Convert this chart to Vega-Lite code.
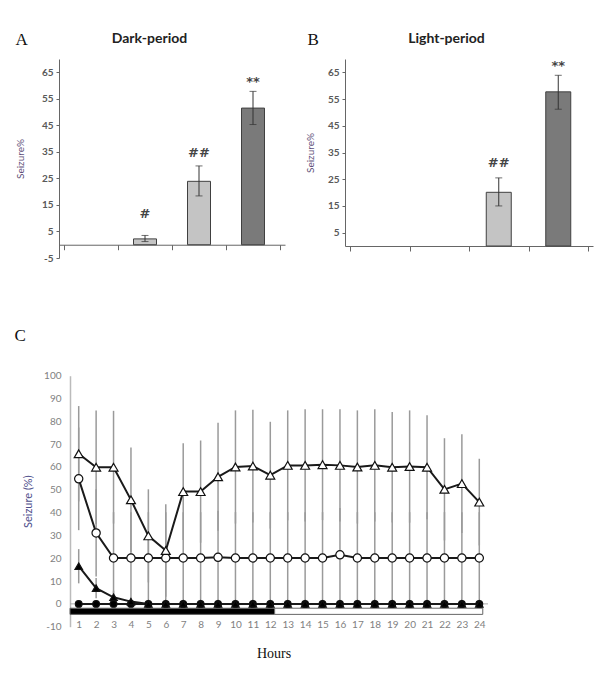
{
  "$schema": "https://vega.github.io/schema/vega-lite/v6.json",
  "background": "white",
  "padding": {"left": 14, "top": 31, "right": 5, "bottom": 5},
  "config": {
    "view": {"stroke": null},
    "font": "Lato",
    "axis": {"grid": false, "labelOverlap": false, "labelFlush": false, "labelBound": false},
    "title": {"font": "Liberation Serif", "fontSize": 17, "fontWeight": "normal", "color": "#111"}
  },
  "datasets": {
    "dark": [
      {"g": 0.5, "v": 0, "lo": 0, "hi": 0, "tone": "light", "lab": "", "ly": 0},
      {"g": 1.5, "v": 2.2, "lo": 1.2, "hi": 3.5, "tone": "light", "lab": "#", "ly": 11.7},
      {"g": 2.5, "v": 23.9, "lo": 18.4, "hi": 29.7, "tone": "light", "lab": "##", "ly": 34.6},
      {"g": 3.5, "v": 51.5, "lo": 45.3, "hi": 57.8, "tone": "dark", "lab": "**", "ly": 61.4}
    ],
    "light": [
      {"g": 0.5, "v": 0, "lo": 0, "hi": 0, "tone": "light", "lab": "", "ly": 0},
      {"g": 1.5, "v": 0, "lo": 0, "hi": 0, "tone": "light", "lab": "", "ly": 0},
      {"g": 2.5, "v": 20.1, "lo": 15.0, "hi": 25.5, "tone": "light", "lab": "##", "ly": 30.9},
      {"g": 3.5, "v": 57.7, "lo": 51.2, "hi": 63.9, "tone": "dark", "lab": "**", "ly": 67.4}
    ],
    "periods": [
      {"start": 0.5, "end": 12.25, "period": "dark", "top": -1.9, "bottom": -4.6},
      {"start": 12.25, "end": 24.2, "period": "light", "top": -1.9, "bottom": -4.6}
    ],
    "hourly": [
      {"hour": 1, "series": "FC", "mean": 0, "lo": 0, "hi": 0},
      {"hour": 2, "series": "FC", "mean": 0, "lo": 0, "hi": 0},
      {"hour": 3, "series": "FC", "mean": 0, "lo": 0, "hi": 0},
      {"hour": 4, "series": "FC", "mean": 0, "lo": 0, "hi": 0},
      {"hour": 5, "series": "FC", "mean": 0, "lo": 0, "hi": 0},
      {"hour": 6, "series": "FC", "mean": 0, "lo": 0, "hi": 0},
      {"hour": 7, "series": "FC", "mean": 0, "lo": 0, "hi": 0},
      {"hour": 8, "series": "FC", "mean": 0, "lo": 0, "hi": 0},
      {"hour": 9, "series": "FC", "mean": 0, "lo": 0, "hi": 0},
      {"hour": 10, "series": "FC", "mean": 0, "lo": 0, "hi": 0},
      {"hour": 11, "series": "FC", "mean": 0, "lo": 0, "hi": 0},
      {"hour": 12, "series": "FC", "mean": 0, "lo": 0, "hi": 0},
      {"hour": 13, "series": "FC", "mean": 0, "lo": 0, "hi": 0},
      {"hour": 14, "series": "FC", "mean": 0, "lo": 0, "hi": 0},
      {"hour": 15, "series": "FC", "mean": 0, "lo": 0, "hi": 0},
      {"hour": 16, "series": "FC", "mean": 0, "lo": 0, "hi": 0},
      {"hour": 17, "series": "FC", "mean": 0, "lo": 0, "hi": 0},
      {"hour": 18, "series": "FC", "mean": 0, "lo": 0, "hi": 0},
      {"hour": 19, "series": "FC", "mean": 0, "lo": 0, "hi": 0},
      {"hour": 20, "series": "FC", "mean": 0, "lo": 0, "hi": 0},
      {"hour": 21, "series": "FC", "mean": 0, "lo": 0, "hi": 0},
      {"hour": 22, "series": "FC", "mean": 0, "lo": 0, "hi": 0},
      {"hour": 23, "series": "FC", "mean": 0, "lo": 0, "hi": 0},
      {"hour": 24, "series": "FC", "mean": 0, "lo": 0, "hi": 0},
      {"hour": 1, "series": "FT", "mean": 16.5, "lo": 9.0, "hi": 24.0},
      {"hour": 2, "series": "FT", "mean": 6.9, "lo": 2.5, "hi": 11.3},
      {"hour": 3, "series": "FT", "mean": 2.9, "lo": 0, "hi": 5.8},
      {"hour": 4, "series": "FT", "mean": 1.0, "lo": 0, "hi": 2.0},
      {"hour": 5, "series": "FT", "mean": 0, "lo": 0, "hi": 0},
      {"hour": 6, "series": "FT", "mean": 0, "lo": 0, "hi": 0},
      {"hour": 7, "series": "FT", "mean": 0, "lo": 0, "hi": 0},
      {"hour": 8, "series": "FT", "mean": 0, "lo": 0, "hi": 0},
      {"hour": 9, "series": "FT", "mean": 0, "lo": 0, "hi": 0},
      {"hour": 10, "series": "FT", "mean": 0, "lo": 0, "hi": 0},
      {"hour": 11, "series": "FT", "mean": 0, "lo": 0, "hi": 0},
      {"hour": 12, "series": "FT", "mean": 0, "lo": 0, "hi": 0},
      {"hour": 13, "series": "FT", "mean": 0, "lo": 0, "hi": 0},
      {"hour": 14, "series": "FT", "mean": 0, "lo": 0, "hi": 0},
      {"hour": 15, "series": "FT", "mean": 0, "lo": 0, "hi": 0},
      {"hour": 16, "series": "FT", "mean": 0, "lo": 0, "hi": 0},
      {"hour": 17, "series": "FT", "mean": 0, "lo": 0, "hi": 0},
      {"hour": 18, "series": "FT", "mean": 0, "lo": 0, "hi": 0},
      {"hour": 19, "series": "FT", "mean": 0, "lo": 0, "hi": 0},
      {"hour": 20, "series": "FT", "mean": 0, "lo": 0, "hi": 0},
      {"hour": 21, "series": "FT", "mean": 0, "lo": 0, "hi": 0},
      {"hour": 22, "series": "FT", "mean": 0, "lo": 0, "hi": 0},
      {"hour": 23, "series": "FT", "mean": 0, "lo": 0, "hi": 0},
      {"hour": 24, "series": "FT", "mean": 0, "lo": 0, "hi": 0},
      {"hour": 1, "series": "O", "mean": 54.8, "lo": 32.3, "hi": 77.3},
      {"hour": 2, "series": "O", "mean": 31.1, "lo": 12.0, "hi": 50.2},
      {"hour": 3, "series": "O", "mean": 20.1, "lo": 0, "hi": 40.2},
      {"hour": 4, "series": "O", "mean": 20.1, "lo": 0, "hi": 40.2},
      {"hour": 5, "series": "O", "mean": 20.1, "lo": 0, "hi": 40.2},
      {"hour": 6, "series": "O", "mean": 20.1, "lo": 0, "hi": 40.2},
      {"hour": 7, "series": "O", "mean": 20.1, "lo": 0, "hi": 40.2},
      {"hour": 8, "series": "O", "mean": 20.1, "lo": 0, "hi": 40.2},
      {"hour": 9, "series": "O", "mean": 20.4, "lo": 0, "hi": 40.8},
      {"hour": 10, "series": "O", "mean": 20.1, "lo": 0, "hi": 40.2},
      {"hour": 11, "series": "O", "mean": 20.1, "lo": 0, "hi": 40.2},
      {"hour": 12, "series": "O", "mean": 20.1, "lo": 0, "hi": 40.2},
      {"hour": 13, "series": "O", "mean": 20.1, "lo": 0, "hi": 40.2},
      {"hour": 14, "series": "O", "mean": 20.1, "lo": 0, "hi": 40.2},
      {"hour": 15, "series": "O", "mean": 20.1, "lo": 0, "hi": 40.2},
      {"hour": 16, "series": "O", "mean": 21.5, "lo": 0, "hi": 42.0},
      {"hour": 17, "series": "O", "mean": 20.1, "lo": 0, "hi": 40.2},
      {"hour": 18, "series": "O", "mean": 20.1, "lo": 0, "hi": 40.2},
      {"hour": 19, "series": "O", "mean": 20.1, "lo": 0, "hi": 40.2},
      {"hour": 20, "series": "O", "mean": 20.1, "lo": 0, "hi": 40.2},
      {"hour": 21, "series": "O", "mean": 20.1, "lo": 0, "hi": 40.2},
      {"hour": 22, "series": "O", "mean": 20.1, "lo": 0, "hi": 40.2},
      {"hour": 23, "series": "O", "mean": 20.1, "lo": 0, "hi": 40.2},
      {"hour": 24, "series": "O", "mean": 20.1, "lo": 0, "hi": 40.2},
      {"hour": 1, "series": "T", "mean": 65.8, "lo": 44.9, "hi": 86.7},
      {"hour": 2, "series": "T", "mean": 59.9, "lo": 35.0, "hi": 84.8},
      {"hour": 3, "series": "T", "mean": 59.9, "lo": 35.2, "hi": 84.6},
      {"hour": 4, "series": "T", "mean": 45.6, "lo": 22.7, "hi": 68.5},
      {"hour": 5, "series": "T", "mean": 29.8, "lo": 9.4, "hi": 50.2},
      {"hour": 6, "series": "T", "mean": 23.4, "lo": 3.1, "hi": 43.7},
      {"hour": 7, "series": "T", "mean": 49.2, "lo": 28.0, "hi": 70.4},
      {"hour": 8, "series": "T", "mean": 49.2, "lo": 26.8, "hi": 71.6},
      {"hour": 9, "series": "T", "mean": 55.7, "lo": 32.0, "hi": 79.4},
      {"hour": 10, "series": "T", "mean": 60.0, "lo": 35.2, "hi": 84.8},
      {"hour": 11, "series": "T", "mean": 60.4, "lo": 35.7, "hi": 85.1},
      {"hour": 12, "series": "T", "mean": 56.4, "lo": 33.0, "hi": 79.8},
      {"hour": 13, "series": "T", "mean": 60.7, "lo": 36.6, "hi": 84.8},
      {"hour": 14, "series": "T", "mean": 60.7, "lo": 36.1, "hi": 85.3},
      {"hour": 15, "series": "T", "mean": 61.0, "lo": 36.7, "hi": 85.3},
      {"hour": 16, "series": "T", "mean": 60.7, "lo": 36.1, "hi": 85.3},
      {"hour": 17, "series": "T", "mean": 60.0, "lo": 35.2, "hi": 84.8},
      {"hour": 18, "series": "T", "mean": 60.7, "lo": 36.1, "hi": 85.3},
      {"hour": 19, "series": "T", "mean": 59.9, "lo": 35.7, "hi": 84.1},
      {"hour": 20, "series": "T", "mean": 60.2, "lo": 35.6, "hi": 84.8},
      {"hour": 21, "series": "T", "mean": 59.9, "lo": 37.1, "hi": 82.7},
      {"hour": 22, "series": "T", "mean": 50.2, "lo": 27.8, "hi": 72.6},
      {"hour": 23, "series": "T", "mean": 52.7, "lo": 31.1, "hi": 74.3},
      {"hour": 24, "series": "T", "mean": 44.6, "lo": 25.6, "hi": 63.6}
    ]
  },
  "bounds": "flush",
  "spacing": 316.7,
  "vconcat": [
    {
      "bounds": "flush",
      "spacing": 60,
      "hconcat": [
        {
          "title": {"text": "A", "anchor": "start", "frame": "bounds", "dy": 22, "dx": 0},
          "width": 226,
          "height": 199,
          "data": {"name": "dark"},
          "resolve": {"axis": {"x": "independent"}},
          "layer": [
            {
              "transform": [{"filter": "datum.v > 0"}],
              "mark": {"type": "bar", "size": 23, "stroke": "#404040", "strokeWidth": 1},
              "encoding": {
                "x": {"field": "g", "type": "quantitative", "scale": {"domain": [0, 4], "nice": false, "zero": false},
                  "axis": {"values": [0, 1, 2, 3, 4], "tickCount": 50, "labels": false, "title": null, "domainColor": "#666", "tickColor": "#666", "tickSize": 5, "offset": -13.27}},
                "y": {"field": "v", "type": "quantitative", "scale": {"domain": [-5, 70], "nice": false, "zero": false},
                  "axis": {"values": [-5, 5, 15, 25, 35, 45, 55, 65], "tickCount": 50, "labelExpr": "datum.value + ''", "title": "Seizure%", "titleColor": "#5c4d77", "titleFontSize": 10, "titleFontWeight": "normal", "titlePadding": 16, "labelColor": "#595959", "labelFontSize": 10, "labelFontWeight": "bold", "domainColor": "#666", "tickColor": "#666", "tickSize": 3, "labelPadding": 3}},
                "fill": {"field": "tone", "type": "nominal", "scale": {"domain": ["light", "dark"], "range": ["#c4c4c4", "#7a7a7a"]}, "legend": null}
              }
            },
            {
              "transform": [{"filter": "datum.v > 0"}],
              "mark": {"type": "rule", "color": "#333", "strokeWidth": 1},
              "encoding": {
                "x": {"field": "g", "type": "quantitative", "axis": null},
                "y": {"field": "lo", "type": "quantitative", "title": "Seizure%"},
                "y2": {"field": "hi"}
              }
            },
            {
              "transform": [{"filter": "datum.v > 0"}, {"fold": ["lo", "hi"], "as": ["end", "val"]}],
              "mark": {"type": "tick", "color": "#333", "size": 7, "thickness": 1, "orient": "horizontal"},
              "encoding": {
                "x": {"field": "g", "type": "quantitative", "axis": null},
                "y": {"field": "val", "type": "quantitative", "title": "Seizure%"}
              }
            },
            {
              "mark": {"type": "text", "font": "DejaVu Sans", "fontSize": 13, "fontWeight": "bold", "color": "#444"},
              "encoding": {
                "x": {"field": "g", "type": "quantitative",
                  "axis": {"orient": "top", "title": "Dark-period", "titleX": 90, "labels": false, "ticks": false, "domain": false, "titleFontSize": 14, "titleFontWeight": "bold", "titleColor": "#222", "titleFont": "Lato", "titlePadding": 14}},
                "y": {"field": "ly", "type": "quantitative", "title": "Seizure%"},
                "text": {"field": "lab"}
              }
            }
          ]
        },
        {
          "title": {"text": "B", "anchor": "start", "frame": "bounds", "dy": 22, "dx": 2},
          "width": 248,
          "height": 187,
          "data": {"name": "light"},
          "resolve": {"axis": {"x": "independent"}},
          "layer": [
            {
              "transform": [{"filter": "datum.v > 0"}],
              "mark": {"type": "bar", "size": 25, "stroke": "#404040", "strokeWidth": 1},
              "encoding": {
                "x": {"field": "g", "type": "quantitative", "scale": {"domain": [0, 4], "nice": false, "zero": false},
                  "axis": {"values": [0, 1, 2, 3, 4], "tickCount": 50, "labels": false, "title": null, "domainColor": "#666", "tickColor": "#666", "tickSize": 5}},
                "y": {"field": "v", "type": "quantitative", "scale": {"domain": [0, 70], "nice": false, "zero": false},
                  "axis": {"values": [5, 15, 25, 35, 45, 55, 65], "tickCount": 50, "format": "d", "title": "Seizure%", "titleColor": "#5c4d77", "titleFontSize": 10, "titleFontWeight": "normal", "titlePadding": 12, "labelColor": "#595959", "labelFontSize": 10, "labelFontWeight": "bold", "domainColor": "#666", "tickColor": "#666", "tickSize": 3, "labelPadding": 3}},
                "fill": {"field": "tone", "type": "nominal", "scale": {"domain": ["light", "dark"], "range": ["#c4c4c4", "#7a7a7a"]}, "legend": null}
              }
            },
            {
              "transform": [{"filter": "datum.v > 0"}],
              "mark": {"type": "rule", "color": "#333", "strokeWidth": 1},
              "encoding": {
                "x": {"field": "g", "type": "quantitative", "axis": null},
                "y": {"field": "lo", "type": "quantitative", "title": "Seizure%"},
                "y2": {"field": "hi"}
              }
            },
            {
              "transform": [{"filter": "datum.v > 0"}, {"fold": ["lo", "hi"], "as": ["end", "val"]}],
              "mark": {"type": "tick", "color": "#333", "size": 7, "thickness": 1, "orient": "horizontal"},
              "encoding": {
                "x": {"field": "g", "type": "quantitative", "axis": null},
                "y": {"field": "val", "type": "quantitative", "title": "Seizure%"}
              }
            },
            {
              "transform": [{"filter": "datum.v > 0"}],
              "mark": {"type": "text", "font": "DejaVu Sans", "fontSize": 13, "fontWeight": "bold", "color": "#444"},
              "encoding": {
                "x": {"field": "g", "type": "quantitative",
                  "axis": {"orient": "top", "title": "Light-period", "titleX": 101, "labels": false, "ticks": false, "domain": false, "titleFontSize": 14, "titleFontWeight": "bold", "titleColor": "#222", "titleFont": "Lato", "titlePadding": 14}},
                "y": {"field": "ly", "type": "quantitative", "title": "Seizure%"},
                "text": {"field": "lab"}
              }
            }
          ]
        }
      ]
    },
    {
      "title": {"text": "C", "anchor": "start", "frame": "bounds", "offset": 26, "dx": -8},
      "width": 429,
      "height": 251,
      "resolve": {"scale": {"fill": "independent"}},
      "layer": [
        {
          "data": {"name": "hourly"},
          "transform": [{"filter": "datum.hi > datum.lo"}],
          "mark": {"type": "rule", "color": "#9a9a9a", "strokeWidth": 1.5},
          "encoding": {
            "x": {"field": "hour", "type": "quantitative", "scale": {"domain": [-0.1316, 24.5], "nice": false, "zero": false},
              "axis": {"values": [1, 2, 3, 4, 5, 6, 7, 8, 9, 10, 11, 12, 13, 14, 15, 16, 17, 18, 19, 20, 21, 22, 23, 24], "tickCount": 100, "format": "d", "domain": false, "ticks": false, "labelColor": "#7f7f7f", "labelFontSize": 10, "offset": -9, "title": "Hours", "titleFont": "Liberation Serif", "titleFontSize": 14, "titleFontWeight": "normal", "titleColor": "#111", "titlePadding": 17}},
            "y": {"field": "lo", "type": "quantitative", "scale": {"domain": [-10, 100], "nice": false, "zero": false},
              "axis": {"values": [-10, 0, 10, 20, 30, 40, 50, 60, 70, 80, 90, 100], "tickCount": 100, "labelExpr": "datum.value + ''", "offset": -11, "ticks": false, "domainColor": "#bbbbbb", "domainWidth": 1.5, "labelColor": "#7f7f7f", "labelFontSize": 10, "labelPadding": 9, "title": "Seizure (%)", "titleColor": "#4d4d8a", "titleFontSize": 11, "titleFontWeight": "normal", "titlePadding": 10}},
            "y2": {"field": "hi"}
          }
        },
        {
          "data": {"values": [{}]},
          "mark": {"type": "rule", "color": "#aaaaaa", "strokeWidth": 1},
          "encoding": {
            "x": {"datum": 0.5, "type": "quantitative"},
            "x2": {"datum": 24.5},
            "y": {"datum": 0, "type": "quantitative"}
          }
        },
        {
          "data": {"name": "periods"},
          "mark": {"type": "rect", "stroke": "#666", "strokeWidth": 1},
          "encoding": {
            "x": {"field": "start", "type": "quantitative"},
            "x2": {"field": "end"},
            "y": {"field": "top", "type": "quantitative"},
            "y2": {"field": "bottom"},
            "fill": {"field": "period", "type": "nominal", "scale": {"domain": ["dark", "light"], "range": ["#000000", "#ffffff"]}, "legend": null}
          }
        },
        {
          "data": {"name": "hourly"},
          "mark": {"type": "line", "color": "#1a1a1a", "strokeWidth": 2},
          "encoding": {
            "x": {"field": "hour", "type": "quantitative"},
            "y": {"field": "mean", "type": "quantitative"},
            "detail": {"field": "series"}
          }
        },
        {
          "data": {"name": "hourly"},
          "mark": {"type": "point", "filled": true, "stroke": "#111", "strokeWidth": 1.2, "opacity": 1},
          "encoding": {
            "x": {"field": "hour", "type": "quantitative"},
            "y": {"field": "mean", "type": "quantitative"},
            "shape": {"field": "series", "type": "nominal", "scale": {"domain": ["FC", "FT", "O", "T"], "range": ["circle", "triangle-up", "circle", "triangle-up"]}, "legend": null},
            "fill": {"field": "series", "type": "nominal", "scale": {"domain": ["FC", "FT", "O", "T"], "range": ["#000000", "#000000", "#ffffff", "#ffffff"]}, "legend": null},
            "size": {"field": "series", "type": "nominal", "scale": {"domain": ["FC", "FT", "O", "T"], "range": [45, 80, 64, 100]}, "legend": null}
          }
        }
      ]
    }
  ]
}
